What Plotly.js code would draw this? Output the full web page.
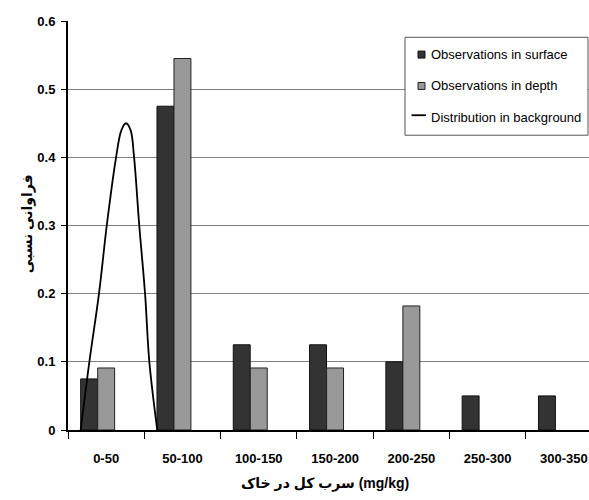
<!DOCTYPE html>
<html>
<head>
<meta charset="utf-8">
<script src="https://cdn.plot.ly/plotly-3.0.1.min.js"></script>
<style>html,body{margin:0;padding:0;background:#fff;}#chart{width:589px;height:500px;}</style>
</head>
<body>
<div id="chart"></div>
<script>
// ---- data ----
const categories = ["0-50", "50-100", "100-150", "150-200", "200-250", "250-300", "300-350"];
const surfaceValues = [0.075, 0.475, 0.125, 0.125, 0.1, 0.05, 0.05];
const depthValues = [0.091, 0.545, 0.091, 0.091, 0.182, 0, 0];
// background distribution curve (x in mg/kg, y = relative frequency)
const backgroundX = [8.3, 14.0, 20.3, 25.4, 31.5, 35.0, 38.0, 41.0, 43.3, 46.7, 50.5, 53.3, 58.5];
const backgroundY = [0, 0.1, 0.2, 0.3, 0.4, 0.44, 0.45, 0.44, 0.4, 0.3, 0.2, 0.1, 0];
const seriesNames = ["Observations in surface", "Observations in depth", "Distribution in background"];
const xTitle = "سرب کل در خاک (mg/kg)";
const yTitle = "فراوانی نسبی";

// ---- layout geometry ----
const W = 589, H = 500;
const L = 68, T = 20.7, B = 70, R = 0;
const plotW = W - L - R, plotH = H - T - B;
const catPx = 76.3;
const catMin = -0.5, catMax = catMin + plotW / catPx;
const binWidth = 50;
const px2x = p => (p - L) / plotW;
const py2y = p => (H - B - p) / plotH;

const FONT = "Liberation Sans, Arial, DejaVu Sans, sans-serif";
const noZero = arr => arr.map(v => (v === 0 ? null : v));

const traces = [
  {
    type: "bar", x: categories, y: noZero(surfaceValues), name: seriesNames[0],
    width: 0.222, offset: -0.334,
    marker: {color: "#333333", line: {color: "#111111", width: 1}},
    showlegend: false, hoverinfo: "skip"
  },
  {
    type: "bar", x: categories, y: noZero(depthValues), name: seriesNames[1],
    width: 0.222, offset: -0.111,
    marker: {color: "#999999", line: {color: "#222222", width: 1}},
    showlegend: false, hoverinfo: "skip"
  },
  {
    type: "scatter", mode: "lines", x: backgroundX, y: backgroundY, name: seriesNames[2],
    xaxis: "x2", yaxis: "y",
    line: {color: "#000000", width: 1.8, shape: "spline", smoothing: 1},
    showlegend: false, hoverinfo: "skip"
  }
];

// legend drawn as shapes + annotations
const lgL = 405, lgR = 588, lgT = 37, lgB = 135;
const rows = [54.3, 85.7, 117];
const shapes = [
  {type: "rect", xref: "paper", yref: "paper", x0: px2x(lgL), x1: px2x(lgR), y0: py2y(lgB), y1: py2y(lgT),
   line: {color: "#555555", width: 1}, fillcolor: "#ffffff", layer: "above"},
  {type: "rect", xref: "paper", yref: "paper", x0: px2x(418), x1: px2x(425), y0: py2y(rows[0] + 3.5), y1: py2y(rows[0] - 3.5),
   line: {color: "#111111", width: 1}, fillcolor: "#333333", layer: "above"},
  {type: "rect", xref: "paper", yref: "paper", x0: px2x(418), x1: px2x(425), y0: py2y(rows[1] + 3.5), y1: py2y(rows[1] - 3.5),
   line: {color: "#222222", width: 1}, fillcolor: "#999999", layer: "above"},
  {type: "line", xref: "paper", yref: "paper", x0: px2x(411.5), x1: px2x(426), y0: py2y(rows[2] - 2), y1: py2y(rows[2] - 2),
   line: {color: "#000000", width: 1.8}, layer: "above"}
];
const annotations = seriesNames.map((n, i) => ({
  xref: "paper", yref: "paper", x: px2x(429), y: py2y(rows[i]), xanchor: "left", yanchor: "middle",
  text: n, showarrow: false, font: {family: FONT, size: 13, color: "#000"}
}));
annotations.push({
  xref: "paper", yref: "paper", x: px2x(325), y: py2y(484), xanchor: "center", yanchor: "middle",
  text: xTitle, showarrow: false, font: {family: FONT, size: 14, color: "#000", weight: "bold"}
});
annotations.push({
  xref: "paper", yref: "paper", x: px2x(27), y: py2y(224), xanchor: "center", yanchor: "middle",
  text: yTitle, textangle: -90, showarrow: false, font: {family: FONT, size: 14, color: "#000", weight: "bold"}
});

const layout = {
  width: W, height: H,
  margin: {l: L, r: R, t: T, b: B, pad: 0},
  paper_bgcolor: "#ffffff", plot_bgcolor: "#ffffff",
  showlegend: false,
  barmode: "overlay",
  xaxis: {
    type: "category", range: [catMin, catMax], fixedrange: true,
    showgrid: false, zeroline: false,
    showline: true, linecolor: "#000", linewidth: 1.5,
    ticks: "outside", tickson: "boundaries", ticklen: 7, tickcolor: "#000", tickwidth: 1,
    ticklabelstandoff: 16,
    tickfont: {family: FONT, size: 13, color: "#000", weight: "bold"}
  },
  xaxis2: {
    overlaying: "x", range: [(catMin + 0.5) * binWidth, (catMax + 0.5) * binWidth],
    visible: false, fixedrange: true
  },
  yaxis: {
    range: [0, 0.6], dtick: 0.1, tick0: 0, fixedrange: true,
    showgrid: true, gridcolor: "#808080", gridwidth: 1,
    zeroline: false,
    showline: true, linecolor: "#000", linewidth: 2,
    ticks: "outside", ticklen: 5, tickcolor: "#000", tickwidth: 1,
    ticklabelstandoff: 3,
    tickfont: {family: FONT, size: 13, color: "#000", weight: "bold"}
  },
  shapes: shapes,
  annotations: annotations
};

Plotly.newPlot("chart", traces, layout, {displayModeBar: false, staticPlot: true});
</script>
</body>
</html>
